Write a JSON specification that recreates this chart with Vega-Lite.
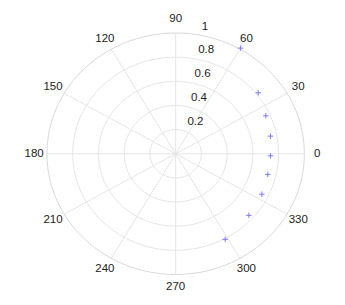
{
  "$schema": "https://vega.github.io/schema/vega-lite/v6.json",
  "width": 345,
  "height": 305,
  "autosize": "none",
  "padding": 0,
  "background": "white",
  "config": {"view": {"stroke": null}, "font": "Liberation Sans"},
  "datasets": {
    "rings": [{"r": 0.2}, {"r": 0.4}, {"r": 0.6}, {"r": 0.8}],
    "outer": [{"r": 1}],
    "spokes": [
      {"x": 1, "y": 0, "x2": -1, "y2": 0},
      {"x": 0.866, "y": 0.5, "x2": -0.866, "y2": -0.5},
      {"x": 0.5, "y": 0.866, "x2": -0.5, "y2": -0.866},
      {"x": 0, "y": 1, "x2": 0, "y2": -1},
      {"x": -0.5, "y": 0.866, "x2": 0.5, "y2": -0.866},
      {"x": -0.866, "y": 0.5, "x2": 0.866, "y2": -0.5}
    ],
    "angles": [
      {"label": "0", "x": 1.1, "y": 0},
      {"label": "30", "x": 0.953, "y": 0.55},
      {"label": "60", "x": 0.55, "y": 0.953},
      {"label": "90", "x": 0, "y": 1.12},
      {"label": "120", "x": -0.55, "y": 0.953},
      {"label": "150", "x": -0.953, "y": 0.55},
      {"label": "180", "x": -1.1, "y": 0},
      {"label": "210", "x": -0.953, "y": -0.55},
      {"label": "240", "x": -0.55, "y": -0.953},
      {"label": "270", "x": 0, "y": -1.1},
      {"label": "300", "x": 0.55, "y": -0.953},
      {"label": "330", "x": 0.953, "y": -0.55}
    ],
    "rlabels": [
      {"label": "0.2", "x": 0.0292, "y": 0.208},
      {"label": "0.4", "x": 0.057, "y": 0.406},
      {"label": "0.6", "x": 0.0848, "y": 0.604},
      {"label": "0.8", "x": 0.1126, "y": 0.802},
      {"label": "1", "x": 0.1404, "y": 1.0}
    ],
    "points": [
      {"x": 0.505, "y": 0.875},
      {"x": 0.642, "y": 0.505},
      {"x": 0.701, "y": 0.314},
      {"x": 0.737, "y": 0.146},
      {"x": 0.737, "y": -0.017},
      {"x": 0.716, "y": -0.171},
      {"x": 0.67, "y": -0.335},
      {"x": 0.569, "y": -0.51},
      {"x": 0.385, "y": -0.709}
    ]
  },
  "layer": [
    {
      "data": {"name": "spokes"},
      "mark": {"type": "rule", "color": "#e6e6e6", "strokeWidth": 1},
      "encoding": {
        "x": {"field": "x", "type": "quantitative", "scale": {"domain": [-1, 1], "range": [47, 304.3], "nice": false, "zero": false}, "axis": null},
        "y": {"field": "y", "type": "quantitative", "scale": {"domain": [-1, 1], "range": [274.5, 33], "nice": false, "zero": false}, "axis": null},
        "x2": {"field": "x2"},
        "y2": {"field": "y2"}
      }
    },
    {
      "data": {"name": "rings"},
      "mark": {"type": "point", "shape": "M-1,0A1,0.938 0 1,0 1,0A1,0.938 0 1,0 -1,0Z", "filled": false, "stroke": "#e6e6e6", "strokeWidth": 1, "opacity": 1},
      "encoding": {
        "x": {"datum": 0, "type": "quantitative"},
        "y": {"datum": 0, "type": "quantitative"},
        "size": {"field": "r", "type": "quantitative", "scale": {"type": "pow", "exponent": 2, "domain": [0, 1], "range": [0, 66254]}, "legend": null}
      }
    },
    {
      "data": {"name": "outer"},
      "mark": {"type": "point", "shape": "M-1,0A1,0.938 0 1,0 1,0A1,0.938 0 1,0 -1,0Z", "filled": false, "stroke": "#d9d9d9", "strokeWidth": 1, "opacity": 1},
      "encoding": {
        "x": {"datum": 0, "type": "quantitative"},
        "y": {"datum": 0, "type": "quantitative"},
        "size": {"field": "r", "type": "quantitative", "scale": {"type": "pow", "exponent": 2, "domain": [0, 1], "range": [0, 66254]}, "legend": null}
      }
    },
    {
      "data": {"name": "angles"},
      "mark": {"type": "text", "fontSize": 11.5, "color": "#222222", "align": "center", "baseline": "middle"},
      "encoding": {
        "x": {"field": "x", "type": "quantitative"},
        "y": {"field": "y", "type": "quantitative"},
        "text": {"field": "label"}
      }
    },
    {
      "data": {"name": "rlabels"},
      "mark": {"type": "text", "fontSize": 11.5, "color": "#222222", "align": "left", "baseline": "bottom", "dx": 8, "dy": -1.5},
      "encoding": {
        "x": {"field": "x", "type": "quantitative"},
        "y": {"field": "y", "type": "quantitative"},
        "text": {"field": "label"}
      }
    },
    {
      "data": {"name": "points"},
      "mark": {"type": "point", "shape": "M-1,0L1,0M0,-1L0,1", "filled": false, "stroke": "#7a7aff", "strokeWidth": 1, "size": 30, "opacity": 1},
      "encoding": {
        "x": {"field": "x", "type": "quantitative"},
        "y": {"field": "y", "type": "quantitative"}
      }
    }
  ],
  "resolve": {"scale": {"size": "independent"}}
}
